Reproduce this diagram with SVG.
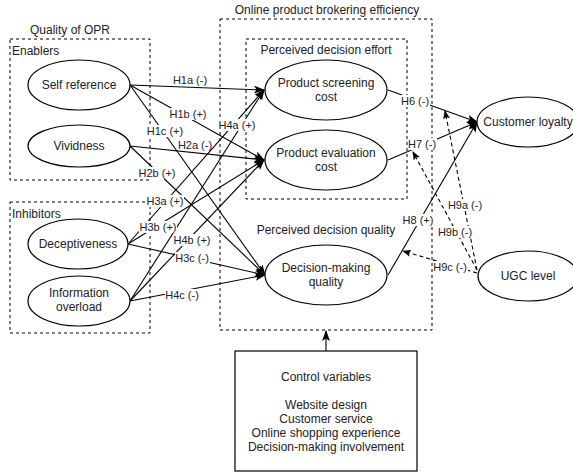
<svg xmlns="http://www.w3.org/2000/svg" width="573" height="473" viewBox="0 0 573 473">
<style>
text{font-family:"Liberation Sans",Arial,sans-serif;fill:#222;}
.n{font-size:12px;text-anchor:middle;}
.t{font-size:12px;}
.l{font-size:11px;text-anchor:middle;}
.bg{fill:#fff;}
.e{fill:#fff;stroke:#000;stroke-width:1.2;}
.g{fill:none;stroke:#000;stroke-width:1;stroke-dasharray:3,3;}
.c{fill:none;stroke:#000;stroke-width:1.1;marker-end:url(#a);}
.d{fill:none;stroke:#000;stroke-width:1.1;stroke-dasharray:4,3;marker-end:url(#b);}
</style>
<defs>
<marker id="a" markerUnits="userSpaceOnUse" markerWidth="12" markerHeight="10" refX="10" refY="4" orient="auto">
<path d="M0,0 L11,4 L0,8 L2.5,4 z" fill="#000"/>
</marker>
<marker id="b" markerUnits="userSpaceOnUse" markerWidth="10" markerHeight="8" refX="8" refY="3.5" orient="auto">
<path d="M0,0 L9,3.5 L0,7 L2,3.5 z" fill="#000"/>
</marker>
</defs>
<rect width="573" height="473" fill="#fff"/>

<g id="groups">
<rect class="g" x="10" y="39" width="140" height="141"/>
<text class="t" x="30" y="34">Quality of OPR</text>
<text class="t" x="12" y="55">Enablers</text>
<rect class="g" x="10" y="202" width="140" height="131"/>
<text class="t" x="12" y="218">Inhibitors</text>
<rect class="g" x="220" y="19" width="212" height="311"/>
<text class="n" x="327" y="14">Online product brokering efficiency</text>
<rect class="g" x="246" y="39" width="161" height="160"/>
<text class="n" x="326" y="54">Perceived decision effort</text>
<text class="n" x="326" y="234">Perceived decision quality</text>
</g>

<g id="connectors">
<line class="c" x1="130" y1="85" x2="264" y2="90"/>
<line class="c" x1="130" y1="85" x2="264" y2="160"/>
<line class="c" x1="130" y1="85" x2="265" y2="275"/>
<line class="c" x1="130" y1="146" x2="264" y2="160"/>
<line class="c" x1="130" y1="146" x2="265" y2="275"/>
<line class="c" x1="128" y1="244" x2="264" y2="90"/>
<line class="c" x1="128" y1="244" x2="264" y2="160"/>
<line class="c" x1="128" y1="244" x2="265" y2="275"/>
<line class="c" x1="130" y1="301" x2="264" y2="90"/>
<line class="c" x1="130" y1="301" x2="264" y2="160"/>
<line class="c" x1="130" y1="301" x2="265" y2="275"/>
<line class="c" x1="388" y1="90" x2="477" y2="122"/>
<line class="c" x1="388" y1="160" x2="477" y2="122"/>
<line class="c" x1="388" y1="275" x2="477" y2="122"/>
<line class="d" x1="477" y1="270" x2="445" y2="111"/>
<line class="d" x1="477" y1="270" x2="413" y2="152"/>
<line class="d" x1="477" y1="273" x2="403" y2="251"/>
<line class="c" x1="326" y1="351" x2="326" y2="331"/>
<rect class="bg" x="169" y="108" width="38" height="12"/>
<rect class="bg" x="146" y="125" width="38" height="12"/>
<rect class="bg" x="138" y="167" width="38" height="12"/>
<rect class="bg" x="146" y="195" width="38" height="12"/>
<rect class="bg" x="139" y="221" width="38" height="12"/>
<rect class="bg" x="175" y="252" width="35" height="12"/>
<rect class="bg" x="218" y="119" width="38" height="12"/>
<rect class="bg" x="173" y="234" width="38" height="12"/>
<rect class="bg" x="165" y="289" width="35" height="12"/>
<rect class="bg" x="401" y="95" width="29" height="12"/>
<rect class="bg" x="408" y="138" width="29" height="12"/>
<rect class="bg" x="402" y="214" width="32" height="12"/>
<rect class="bg" x="448" y="199" width="35" height="12"/>
<rect class="bg" x="438" y="226" width="35" height="12"/>
<rect class="bg" x="433" y="261" width="35" height="12"/>
<text class="l" x="190" y="84">H1a (-)</text>
<text class="l" x="188" y="118">H1b (+)</text>
<text class="l" x="165" y="135">H1c (+)</text>
<text class="l" x="195" y="149">H2a (-)</text>
<text class="l" x="157" y="177">H2b (+)</text>
<text class="l" x="165" y="205">H3a (+)</text>
<text class="l" x="158" y="231">H3b (+)</text>
<text class="l" x="192" y="262">H3c (-)</text>
<text class="l" x="237" y="129">H4a (+)</text>
<text class="l" x="192" y="244">H4b (+)</text>
<text class="l" x="182" y="299">H4c (-)</text>
<text class="l" x="415" y="105">H6 (-)</text>
<text class="l" x="422" y="148">H7 (-)</text>
<text class="l" x="418" y="224">H8 (+)</text>
<text class="l" x="465" y="209">H9a (-)</text>
<text class="l" x="455" y="236">H9b (-)</text>
<text class="l" x="450" y="271">H9c (-)</text>
</g>

<g id="self-reference"><ellipse class="e" cx="79" cy="85" rx="51" ry="25"/><text class="n" x="79" y="89">Self reference</text></g>
<g id="vividness"><ellipse class="e" cx="79" cy="146" rx="51" ry="21"/><text class="n" x="79" y="150">Vividness</text></g>
<g id="deceptiveness"><ellipse class="e" cx="78" cy="244" rx="50" ry="25"/><text class="n" x="78" y="248">Deceptiveness</text></g>
<g id="information-overload"><ellipse class="e" cx="79" cy="301" rx="51" ry="25"/><text class="n" x="79" y="297">Information</text><text class="n" x="79" y="311">overload</text></g>
<g id="product-screening"><ellipse class="e" cx="326" cy="90" rx="61" ry="30"/><text class="n" x="326" y="87">Product screening</text><text class="n" x="326" y="101">cost</text></g>
<g id="product-evaluation"><ellipse class="e" cx="326" cy="160" rx="61" ry="30"/><text class="n" x="326" y="157">Product evaluation</text><text class="n" x="326" y="171">cost</text></g>
<g id="decision-quality"><ellipse class="e" cx="326" cy="275" rx="61" ry="30"/><text class="n" x="326" y="272">Decision-making</text><text class="n" x="326" y="286">quality</text></g>
<g id="customer-loyalty"><ellipse class="e" cx="528" cy="122" rx="51" ry="25"/><text class="n" x="528" y="126">Customer loyalty</text></g>
<g id="ugc-level"><ellipse class="e" cx="528" cy="276" rx="50" ry="25"/><text class="n" x="528" y="280">UGC level</text></g>
<g id="control-variables">
<rect x="235" y="351" width="182" height="120" fill="#fff" stroke="#000" stroke-width="1.2"/>
<text class="n" x="326" y="381">Control variables</text>
<text class="n" x="326" y="409">Website design</text>
<text class="n" x="326" y="423">Customer service</text>
<text class="n" x="326" y="437">Online shopping experience</text>
<text class="n" x="326" y="451">Decision-making involvement</text>
</g>
</svg>
